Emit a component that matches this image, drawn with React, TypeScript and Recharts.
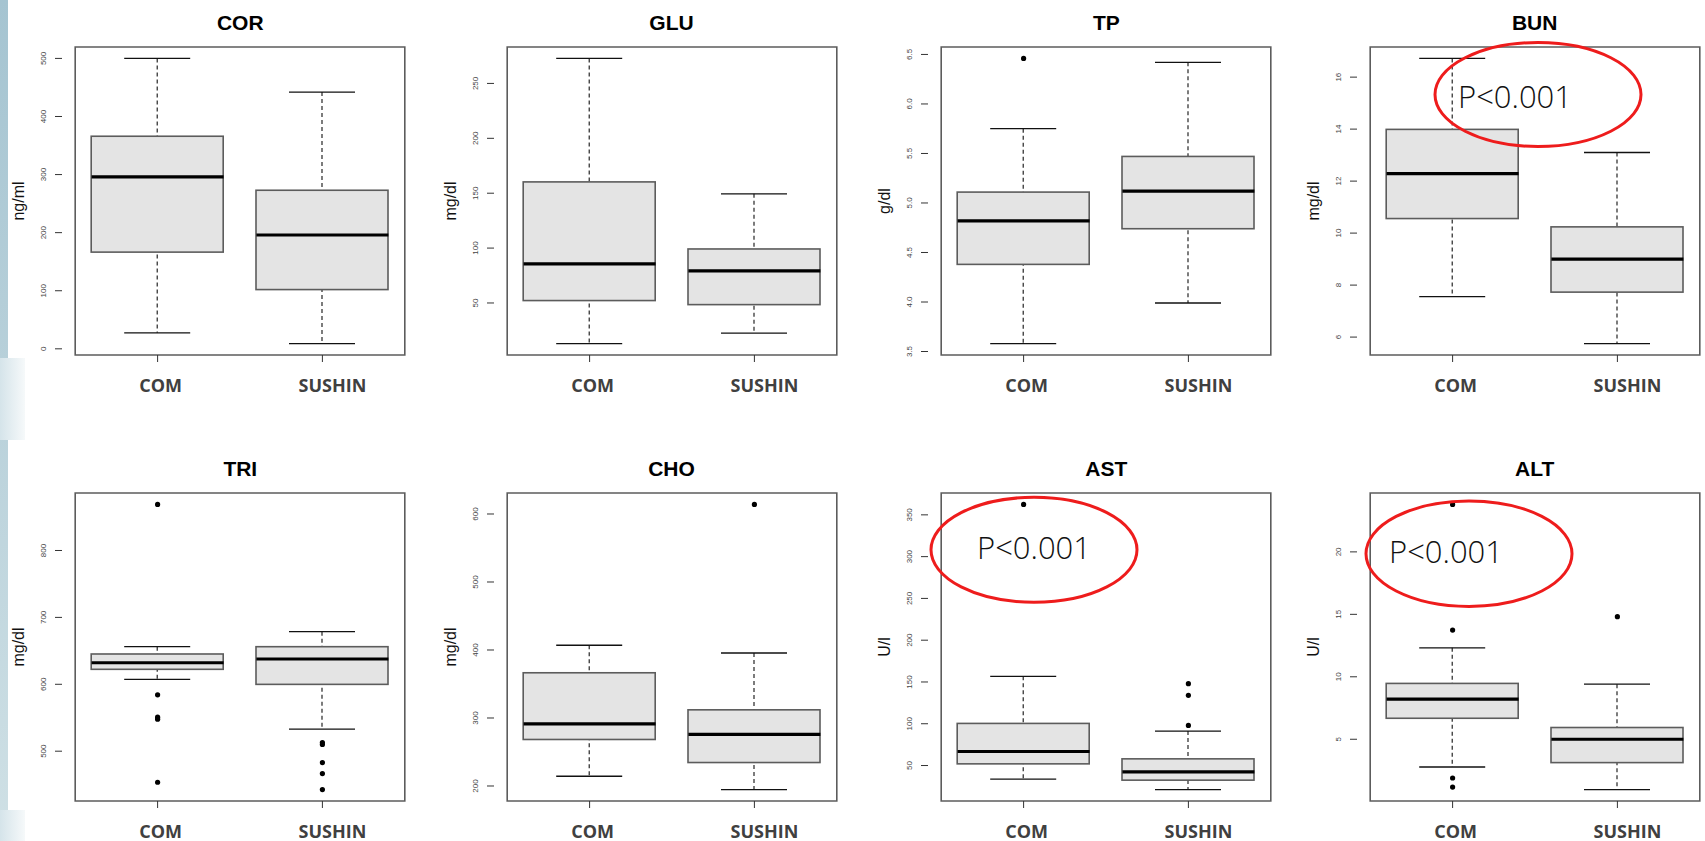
import React from 'react';
import { ComposedChart, Bar, Line, XAxis, YAxis, ReferenceArea, Label } from 'recharts';

// ---------------- data ----------------
const groups = ['COM', 'SUSHIN'];
const titles = ['COR', 'GLU', 'TP', 'BUN', 'TRI', 'CHO', 'AST', 'ALT'];
const units = ['ng/ml', 'mg/dl', 'g/dl', 'mg/dl', 'mg/dl', 'mg/dl', 'U/l', 'U/l'];

// [lower whisker, Q1, median, Q3, upper whisker]
const comStats = [
  [27.5, 166.5, 296, 366, 500],
  [13, 52.2, 85.6, 160.3, 272.8],
  [3.58, 4.38, 4.82, 5.11, 5.75],
  [7.56, 10.56, 12.29, 13.99, 16.72],
  [607.4, 622.4, 632.2, 645.3, 656.2],
  [214.3, 268.4, 291.4, 366.5, 407],
  [33.7, 52, 66.8, 100.4, 156.8],
  [2.78, 6.68, 8.21, 9.47, 12.32],
];
const sushinStats = [
  [9, 102, 196, 273, 442],
  [22.6, 48.5, 79.2, 99.2, 149.4],
  [3.99, 4.74, 5.12, 5.47, 6.42],
  [5.75, 7.73, 9.0, 10.24, 13.1],
  [533, 599.9, 637.8, 656.2, 678.7],
  [194.7, 234.5, 275.8, 312, 395.6],
  [21.2, 32.5, 42.4, 58, 91.2],
  [0.97, 3.13, 5.0, 5.94, 9.41],
];
const comOutliers = [[], [], [6.46], [], [868.9, 584.3, 550.9, 547.9, 453.6], [], [362.5], [23.8, 13.74, 1.9, 1.17]];
const sushinOutliers = [[], [], [], [], [513, 510, 483, 466.6, 442.6], [614.1], [148, 134, 98], [14.81]];

const yTicks = [
  [0, 100, 200, 300, 400, 500],
  [50, 100, 150, 200, 250],
  [3.5, 4, 4.5, 5, 5.5, 6, 6.5],
  [6, 8, 10, 12, 14, 16],
  [500, 600, 700, 800],
  [200, 300, 400, 500, 600],
  [50, 100, 150, 200, 250, 300, 350],
  [5, 10, 15, 20],
];
const tickDecimals = [0, 0, 1, 0, 0, 0, 0, 0];
const significance = ['', '', '', 'P<0.001', '', '', 'P<0.001', 'P<0.001'];

// ---------------- layout ----------------
const COL_X = [62.3, 493.5, 928.3, 1356.7];
const ROW_Y = [46.7, 492.5];
const PW = 356;
const PH = 308;
const YAW = 60;
const XAH = 50;
const TOPM = 4;
const RIGHTM = 4;
const XPAD = 13.2;
const BOX_W = 132;
const CAP_W = 66;
const LABEL_DX = [3, 10];

// annotation ellipses (panel index -> geometry)
const ellipses: Record<number, { cx: number; cy: number; rx: number; ry: number; tx: number; ty: number }> = {
  3: { cx: 1538, cy: 94.5, rx: 103, ry: 52, tx: 1458, ty: 108 },
  6: { cx: 1034, cy: 549.8, rx: 103, ry: 52.5, tx: 977, ty: 558.7 },
  7: { cx: 1469, cy: 553.7, rx: 103, ry: 52.7, tx: 1389, ty: 563.3 },
};

function buildRows(i: number) {
  return groups.map((g, gi) => {
    const s = gi === 0 ? comStats[i] : sushinStats[i];
    const outs = gi === 0 ? comOutliers[i] : sushinOutliers[i];
    const row: any = { cat: g, whisk: [s[0], s[4]], box: [s[1], s[3]], med: s[2] };
    for (let k = 0; k < 5; k++) row['o' + k] = outs[k] !== undefined ? outs[k] : null;
    return row;
  });
}

function domainOf(i: number): [number, number] {
  const all = [...comStats[i], ...sushinStats[i], ...comOutliers[i], ...sushinOutliers[i]];
  const lo = Math.min(...all);
  const hi = Math.max(...all);
  const pad = (hi - lo) * 0.04;
  return [lo - pad, hi + pad];
}

const WhiskerShape = (p: any) => {
  const { x, y, width, height } = p;
  if (x == null || y == null) return null;
  const top = Math.min(y, y + height);
  const bot = Math.max(y, y + height);
  const cx = x + width / 2;
  return (
    <g>
      <line x1={cx} x2={cx} y1={top} y2={bot} stroke="#111" strokeWidth={1.1} strokeDasharray="4 3" />
      <line x1={x} x2={x + width} y1={top} y2={top} stroke="#111" strokeWidth={1.3} />
      <line x1={x} x2={x + width} y1={bot} y2={bot} stroke="#111" strokeWidth={1.3} />
    </g>
  );
};

const BoxShape = (p: any) => {
  const { x, y, width, height } = p;
  if (x == null || y == null) return null;
  const top = Math.min(y, y + height);
  const h = Math.abs(height);
  return <rect x={x} y={top} width={width} height={h} fill="#e4e4e4" stroke="#5c5c5c" strokeWidth={1.6} />;
};

const MedianDot = (p: any) => {
  const { cx, cy, index } = p;
  if (cx == null || cy == null || isNaN(cy)) return <g key={'m' + index} />;
  return (
    <line key={'m' + index} x1={cx - BOX_W / 2} x2={cx + BOX_W / 2} y1={cy} y2={cy} stroke="#000" strokeWidth={3.2} />
  );
};

const OutlierDot = (p: any) => {
  const { cx, cy, index, dataKey } = p;
  if (cx == null || cy == null || isNaN(cy) || p.value == null) return <g key={dataKey + index} />;
  return <circle key={dataKey + index} cx={cx} cy={cy} r={2.6} fill="#000" />;
};

function Panel({ i }: { i: number }) {
  const col = i % 4;
  const row = Math.floor(i / 4);
  const x0 = COL_X[col];
  const y0 = ROW_Y[row];
  const data = buildRows(i);
  const [lo, hi] = domainOf(i);
  const dec = tickDecimals[i];
  const W = YAW + PW + RIGHTM;
  const H = TOPM + PH + XAH;

  const YTick = (p: any) => {
    const { x, y, payload } = p;
    const v = Number(payload.value);
    return (
      <text
        transform={`translate(${x},${y}) rotate(-90)`}
        textAnchor="middle"
        fontFamily="'Liberation Sans', Arial, sans-serif"
        fontSize={8}
        fill="#444"
      >
        {dec ? v.toFixed(dec) : String(v)}
      </text>
    );
  };

  const XTick = (p: any) => {
    const { x, y, payload, index } = p;
    return (
      <text
        x={x + LABEL_DX[index] }
        y={y + 30}
        textAnchor="middle"
        fontFamily="'Open Sans', 'Noto Sans', sans-serif"
        fontWeight={700}
        fontSize={18}
        fill="#404040"
      >
        {payload.value}
      </text>
    );
  };

  return (
    <>
      <div
        style={{
          position: 'absolute',
          left: x0,
          top: y0 - 37,
          width: PW,
          height: 26,
          lineHeight: '26px',
          textAlign: 'center',
          fontFamily: "'Liberation Sans', Arial, sans-serif",
          fontWeight: 700,
          fontSize: 21,
          color: '#000',
        }}
      >
        {titles[i]}
      </div>
      <div style={{ position: 'absolute', left: x0 - YAW, top: y0 - TOPM }}>
        <ComposedChart
          width={W}
          height={H}
          data={data}
          margin={{ top: TOPM, right: RIGHTM, bottom: 0, left: 0 }}
        >
          <XAxis
            dataKey="cat"
            type="category"
            padding={{ left: XPAD, right: XPAD }}
            height={XAH}
            axisLine={false}
            tickLine={{ stroke: '#333', strokeWidth: 1 }}
            tickSize={7}
            tickMargin={0}
            tick={XTick}
            interval={0}
          />
          <XAxis xAxisId="w" dataKey="cat" type="category" padding={{ left: XPAD, right: XPAD }} hide />
          <XAxis xAxisId="b" dataKey="cat" type="category" padding={{ left: XPAD, right: XPAD }} hide />
          <YAxis
            type="number"
            domain={[lo, hi]}
            allowDataOverflow
            ticks={yTicks[i]}
            width={YAW}
            axisLine={false}
            tickLine={{ stroke: '#333', strokeWidth: 1 }}
            tickSize={7}
            tickMargin={9}
            tick={YTick}
            interval={0}
          >
            <Label
              content={() => (
                <text
                  transform={`translate(${YAW - 44},${TOPM + PH / 2}) rotate(-90)`}
                  textAnchor="middle"
                  dominantBaseline="central"
                  fontFamily="'Liberation Sans', Arial, sans-serif"
                  fontSize={16}
                  fill="#111"
                >
                  {units[i]}
                </text>
              )}
            />
          </YAxis>
          <Bar xAxisId="w" dataKey="whisk" barSize={CAP_W} shape={WhiskerShape} isAnimationActive={false} />
          <Bar xAxisId="b" dataKey="box" barSize={BOX_W} shape={BoxShape} isAnimationActive={false} />
          <Line dataKey="med" stroke="none" dot={MedianDot} activeDot={false} isAnimationActive={false} />
          {[0, 1, 2, 3, 4].map((k) => (
            <Line
              key={k}
              dataKey={'o' + k}
              stroke="none"
              dot={OutlierDot}
              activeDot={false}
              isAnimationActive={false}
            />
          ))}
          <ReferenceArea y1={lo} y2={hi} fill="none" fillOpacity={0} stroke="#5c5c5c" strokeWidth={1.6} ifOverflow="visible" />
        </ComposedChart>
      </div>
    </>
  );
}

export default function App() {
  return (
    <div
      style={{
        position: 'absolute',
        left: 0,
        top: 0,
        width: 1705,
        height: 841,
        overflow: 'hidden',
        background: '#fff',
      }}
    >
      <div
        style={{
          position: 'absolute',
          left: 0,
          top: 0,
          width: 8,
          height: 841,
          background: 'linear-gradient(to bottom, #a5c4d1, #cfe0e5)',
        }}
      />
      <div
        style={{
          position: 'absolute',
          left: 0,
          top: 358,
          width: 25,
          height: 82,
          background: 'linear-gradient(to right, #d5e4ea, #f6f9fa)',
        }}
      />
      <div
        style={{
          position: 'absolute',
          left: 0,
          top: 810,
          width: 25,
          height: 31,
          background: 'linear-gradient(to right, #d5e4ea, #f6f9fa)',
        }}
      />
      {titles.map((_, i) => (
        <Panel key={i} i={i} />
      ))}
      <svg
        width={1705}
        height={841}
        style={{ position: 'absolute', left: 0, top: 0, pointerEvents: 'none' }}
      >
        {Object.keys(ellipses).map((k) => {
          const e = ellipses[Number(k)];
          return (
            <g key={k}>
              <ellipse cx={e.cx} cy={e.cy} rx={e.rx} ry={e.ry} fill="none" stroke="#ee1c1c" strokeWidth={3} />
              <text
                x={e.tx}
                y={e.ty}
                fontFamily="'Open Sans', 'Noto Sans', sans-serif"
                fontWeight={300}
                fontSize={31}
                fill="#111"
              >
                {significance[Number(k)]}
              </text>
            </g>
          );
        })}
      </svg>
    </div>
  );
}
